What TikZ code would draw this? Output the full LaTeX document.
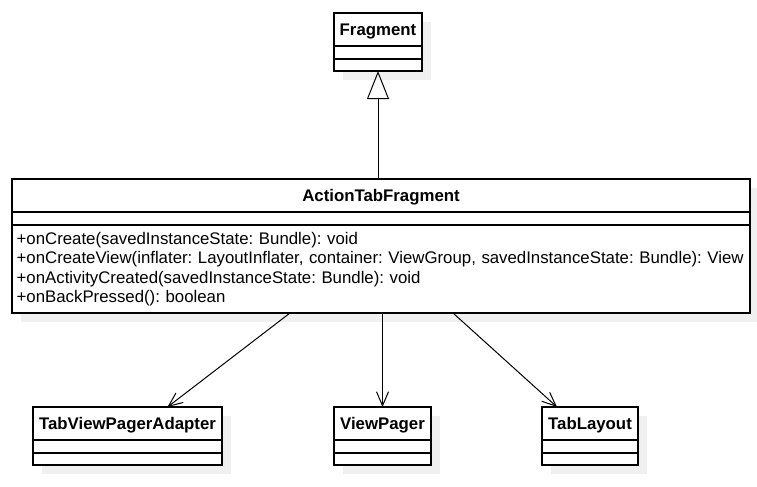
\documentclass[tikz,border=0pt]{standalone}
\usepackage{fontspec}
\setmainfont{Liberation Sans}
\usetikzlibrary{positioning,arrows.meta,shadows}
\frenchspacing

\begin{document}
\begin{tikzpicture}[x=0.75pt, y=-0.75pt, >=Stealth,
        node distance=0pt,
        part/.style={draw, fill=white, line width=0.8pt, outer sep=0pt, inner sep=0pt, general shadow={fill=black!6, shadow xshift=6.75pt, shadow yshift=-6.75pt}},
        head/.style={part, font=\fontsize{12.6}{14.5}\selectfont\bfseries, text height=12pt, text depth=2.7pt, minimum height=24.75pt},
        attr/.style={part, minimum height=9.75pt},
        ops/.style={part, minimum height=9pt},
        meth/.style={part, align=left, inner xsep=3.5pt, font=\fontsize{12.6}{14.5}\selectfont, text width=546.5pt, minimum height=66pt},
        uses/.style={-{Straight Barb[length=10.5pt, width=9pt]}, line width=0.75pt}]
        \useasboundingbox (0,0) rectangle (757,486);

        \node[head, minimum width=66pt, anchor=north west] (F0) at (334,13) {Fragment};
        \node[attr, minimum width=66pt, below=of F0] (F1) {};
        \node[ops, minimum width=66pt, below=of F1] (F2) {};

        \node[head, minimum width=553.5pt, anchor=north west] (A0) at (12,179) {ActionTabFragment};
        \node[attr, minimum width=553.5pt, below=of A0] (A1) {};
        \node[meth, below=of A1] (A2) {+onCreate(savedInstanceState: Bundle): void\\+onCreateView(inflater: LayoutInflater, container: ViewGroup, savedInstanceState: Bundle): View\\+onActivityCreated(savedInstanceState: Bundle): void\\+onBackPressed(): boolean};

        \node[head, minimum width=141.75pt, anchor=north west] (T0) at (33,407) {TabViewPagerAdapter};
        \node[attr, minimum width=141.75pt, below=of T0] (T1) {};
        \node[ops, minimum width=141.75pt, below=of T1] (T2) {};

        \node[head, minimum width=72.75pt, anchor=north west] (V0) at (334,407) {ViewPager};
        \node[attr, minimum width=72.75pt, below=of V0] (V1) {};
        \node[ops, minimum width=72.75pt, below=of V1] (V2) {};

        \node[head, minimum width=72pt, anchor=north west] (L0) at (542,407) {TabLayout};
        \node[attr, minimum width=72pt, below=of L0] (L1) {};
        \node[ops, minimum width=72pt, below=of L1] (L2) {};

        \draw[-{Triangle[open, length=21pt, width=16.5pt]}, line width=0.75pt] (A0.north -| F2.south) -- (F2.south);
        \draw[uses] ([shift={(-91,0)}]A2.south) -- ([shift={(40,0)}]T0.north);
        \draw[uses] (A2.south -| V0.north) -- (V0.north);
        \draw[uses] ([shift={(72,0)}]A2.south) -- ([shift={(-33,0)}]L0.north);
    \end{tikzpicture}
\end{document}
